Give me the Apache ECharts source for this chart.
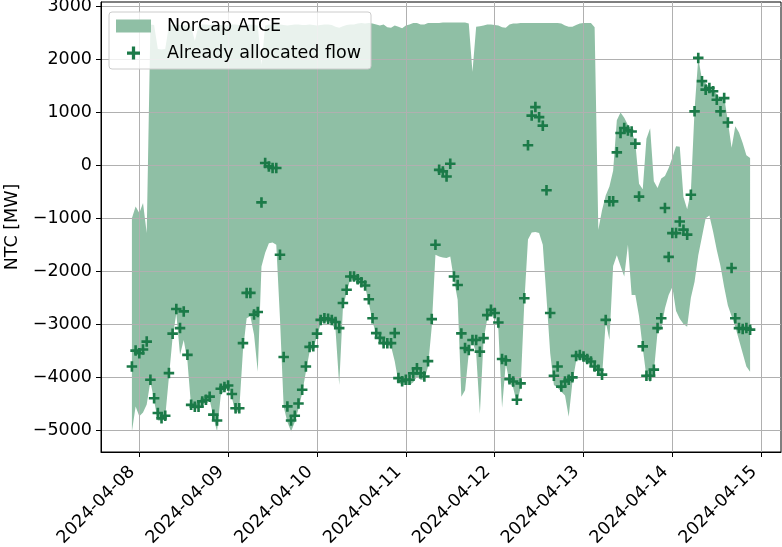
<!DOCTYPE html>
<html>
<head>
<meta charset="utf-8">
<script src="https://cdn.jsdelivr.net/npm/echarts@6/dist/echarts.min.js"></script>
<style>
html,body{margin:0;padding:0;background:#fff;}
#chart{width:782px;height:547px;}
</style>
</head>
<body>
<div id="chart"></div>
<script>
// Hourly series, first hour 2024-04-07 22:00 UTC, last 2024-04-14 21:00 UTC
const startHourUTC = Date.UTC(2024, 3, 7, 22);
const hourCount = 168;

// Already allocated flow [MW]
const flow = [
  -3800, -3500,
  -3550, -3480, -3330, -4050, -4400, -4680, -4780, -4730, -3925, -3180, -2715, -3075, -2760, -3580, -4525, -4560, -4560, -4460, -4430, -4370, -4710, -4820, -4220, -4190,
  -4160, -4320, -4590, -4590, -3360, -2410, -2410, -2820, -2770, -700, 45, -20, -50, -50, -1690, -3620, -4555, -4820, -4730, -4500, -4240, -3800, -3430, -3420,
  -3180, -2920, -2890, -2900, -2920, -2960, -3075, -2600, -2350, -2100, -2100, -2150, -2210, -2270, -2530, -2890, -3170, -3260, -3360, -3360, -3360, -3170, -4020, -4080,
  -4050, -4050, -3930, -3835, -3930, -3990, -3700, -2905, -1500, -85, -115, -210, 30, -2100, -2260, -3175, -3450, -3490, -3300, -3300, -3520, -3265, -2830, -2730,
  -2790, -2970, -3660, -3685, -4040, -4085, -4430, -4120, -2510, 380, 940, 1100, 910, 750, -470, -2790, -3975, -3800, -4180, -4085, -4050, -4005, -3600, -3585,
  -3610, -3660, -3705, -3800, -3860, -3955, -2920, -680, -680, 245, 610, 705, 660, 640, 410, -590, -3420, -3975, -3975, -3860, -3075, -2890, -805, -1730,
  -1280, -1280, -1060, -1215, -1310, -555, 1020, 2030, 1590, 1430, 1460, 1400, 1240, 1020, 1270, 810, -1940, -2890, -3075, -3090, -3075, -3105
];

// NorCap ATCE upper bound [MW]
const atceUpper = [
  -1000, -780,
  -900, -710, -1280, 2660, 2650, 2200, 2190, 2200, 2640, 2660, 2660, 2650, 2640, 2650, 2620, 2350, 2640, 2660, 2660, 2650, 2660, 2660, 2650, 2640,
  2650, 2660, 2660, 2650, 2650, 2660, 2660, 2650, 2640, 1900, 2640, 2660, 2650, 2650, 2660, 2650, 2640, 2650, 2660, 2660, 2650, 2650, 2660, 2650,
  2640, 2650, 2660, 2660, 2650, 2620, 2600, 2630, 2650, 2660, 2660, 2680, 2690, 2680, 2690, 2680, 2660, 2640, 2660, 2610, 2600, 2640, 2620, 2590,
  2640, 2660, 2690, 2690, 2660, 2660, 2690, 2690, 2690, 2690, 2700, 2700, 2700, 2700, 2700, 2700, 2700, 2680, 1770, 2620, 2630, 2640, 2660, 2660,
  2650, 2640, 2610, 2600, 2660, 2680, 2680, 2690, 2690, 2690, 2690, 2690, 2690, 2690, 2690, 2690, 2690, 2690, 2680, 2640, 2620, 2620, 2650, 2680,
  2690, 2690, 2690, 2610, -1215, -850, -570, -400, -100, 850, 1000, 900, 760, 660, 420, -350, -450, 500, 700, -300, -430, -250, -200, -50,
  150, 360, 350, -600, -830, -500, 1050, 2030, 1620, 1550, 1480, 1420, 1350, 1250, 1290, 830, 330, 740, 620, 420, 190, 140
];

// NorCap ATCE lower bound [MW]
const atceLower = [
  -5030, -4555,
  -4740, -4670, -4520, -4080, -4450, -4820, -4820, -4750, -4000, -3250, -2800, -3580, -3300, -3700, -4560, -4600, -4600, -4520, -4480, -4430, -4750, -5030, -4350, -4250,
  -4200, -4380, -4700, -4620, -3500, -2890, -2850, -3200, -3900, -1910, -1650, -1470, -1460, -1500, -2900, -4560, -4850, -5030, -4850, -4600, -4300, -3900, -3520, -3450,
  -3230, -3000, -2950, -2960, -3000, -3100, -4150, -2700, -2400, -2150, -2150, -2170, -2230, -2300, -2600, -2950, -3200, -3300, -3380, -3400, -3420, -3700, -4100, -4150,
  -4150, -4150, -4100, -4000, -4050, -4050, -3800, -3050, -1690, -1720, -1740, -1750, -1720, -2160, -2540, -4370, -4250, -3550, -3320, -3550, -4700, -3300, -2900, -2800,
  -2850, -3100, -4580, -3750, -4100, -4200, -4500, -4200, -2600, -1400, -1270, -1260, -1280, -1500, -2500, -3550, -4150, -4200, -4280, -4350, -4750, -4100, -3700, -3650,
  -3700, -3720, -3780, -3850, -3920, -4000, -2950, -3300, -1900, -1700, -1900, -2100, -1500, -2450, -2450, -2850, -3450, -4000, -4100, -3900, -3150, -3100, -2700, -2450,
  -2300, -2750, -2900, -3000, -3050, -2500, -2200, -1700, -1350, -1000, -950, -1250, -1600, -1900, -2300, -2650, -2850, -3050, -3300, -3550, -3800, -3900
];

const xTickLabels = ['2024-04-08','2024-04-09','2024-04-10','2024-04-11','2024-04-12','2024-04-13','2024-04-14','2024-04-15'];
const yTickValues = [-5000, -4000, -3000, -2000, -1000, 0, 1000, 2000, 3000];

const times = [];
for (let i = 0; i < hourCount; i++) times.push(startHourUTC + i * 3600000);
const xTickValues = xTickLabels.map(s => Date.parse(s + 'T00:00:00Z'));

const FILL = '#8fbfa5';
const MARK = '#1b7a48';
const FONT = 'DejaVu Sans';
const FS = 17.5;
const plusPath = 'path://M3.75,0 H6.25 V3.75 H10 V6.25 H6.25 V10 H3.75 V6.25 H0 V3.75 H3.75 Z';

const chart = echarts.init(document.getElementById('chart'), null, {renderer: 'canvas'});
chart.setOption({
  animation: false,
  backgroundColor: '#ffffff',
  textStyle: {fontFamily: FONT},
  grid: {left: 101, right: 1, top: 2, bottom: 95, containLabel: false, outerBoundsMode: 'none',
         show: true, borderColor: '#000', borderWidth: 1, backgroundColor: 'transparent'},
  legend: {
    left: 109, top: 12, orient: 'vertical',
    padding: [5, 10, 7, 7],
    itemWidth: 35, itemHeight: 13, itemGap: 9,
    backgroundColor: 'rgba(255,255,255,0.8)',
    borderColor: '#cccccc', borderWidth: 1, borderRadius: 3,
    textStyle: {fontFamily: FONT, fontSize: FS, color: '#000', padding: [0, 0, 0, 11]},
    data: [
      {name: 'NorCap ATCE', icon: 'rect', itemStyle: {color: FILL}},
      {name: 'Already allocated flow', icon: plusPath, itemStyle: {color: MARK}}
    ],
    z: 10
  },
  xAxis: {
    type: 'value',
    min: Date.UTC(2024, 3, 7, 13, 39),
    max: Date.UTC(2024, 3, 15, 5, 21),
    z: 3,
    axisLine: {show: true, onZero: false, lineStyle: {color: '#000', width: 1}},
    axisTick: {show: true, inside: false, length: 5, lineStyle: {color: '#000', width: 1}, customValues: xTickValues},
    axisLabel: {
      customValues: xTickValues,
      rotate: 45, margin: 10, padding: [0, 10, 0, 0],
      fontFamily: FONT, fontSize: FS, color: '#000',
      formatter: v => new Date(v).toISOString().slice(0, 10)
    },
    splitLine: {show: true, lineStyle: {color: '#b0b0b0', width: 1}}
  },
  yAxis: {
    type: 'value',
    min: -5416, max: 3086,
    z: 3,
    name: 'NTC [MW]', nameLocation: 'middle', nameGap: 79,
    nameTextStyle: {fontFamily: FONT, fontSize: FS, color: '#000'},
    axisLine: {show: true, onZero: false, lineStyle: {color: '#000', width: 1}},
    axisTick: {show: true, inside: false, length: 5, lineStyle: {color: '#000', width: 1}, customValues: yTickValues},
    axisLabel: {
      customValues: yTickValues,
      margin: 9, fontFamily: FONT, fontSize: FS, color: '#000',
      formatter: v => (v < 0 ? '\u2212' + Math.abs(v) : String(v))
    },
    splitLine: {show: true, lineStyle: {color: '#b0b0b0', width: 1}}
  },
  series: [
    {
      name: 'NorCap ATCE',
      type: 'custom',
      z: 2,
      itemStyle: {color: FILL},
      data: times.map((t, i) => [t, atceLower[i], atceUpper[i]]),
      encode: {x: 0, y: [1, 2]},
      renderItem: function (params, api) {
        if (params.dataIndex !== 0) return null;
        const pts = [];
        for (let i = 0; i < times.length; i++) pts.push(api.coord([times[i], atceUpper[i]]));
        for (let i = times.length - 1; i >= 0; i--) pts.push(api.coord([times[i], atceLower[i]]));
        return {type: 'polygon', shape: {points: pts}, style: {fill: FILL}};
      }
    },
    {
      name: 'Already allocated flow',
      type: 'scatter',
      z: 5,
      symbol: plusPath,
      symbolSize: 10.5,
      itemStyle: {color: MARK, opacity: 1},
      data: times.map((t, i) => [t, flow[i]])
    }
  ]
});
</script>
</body>
</html>
